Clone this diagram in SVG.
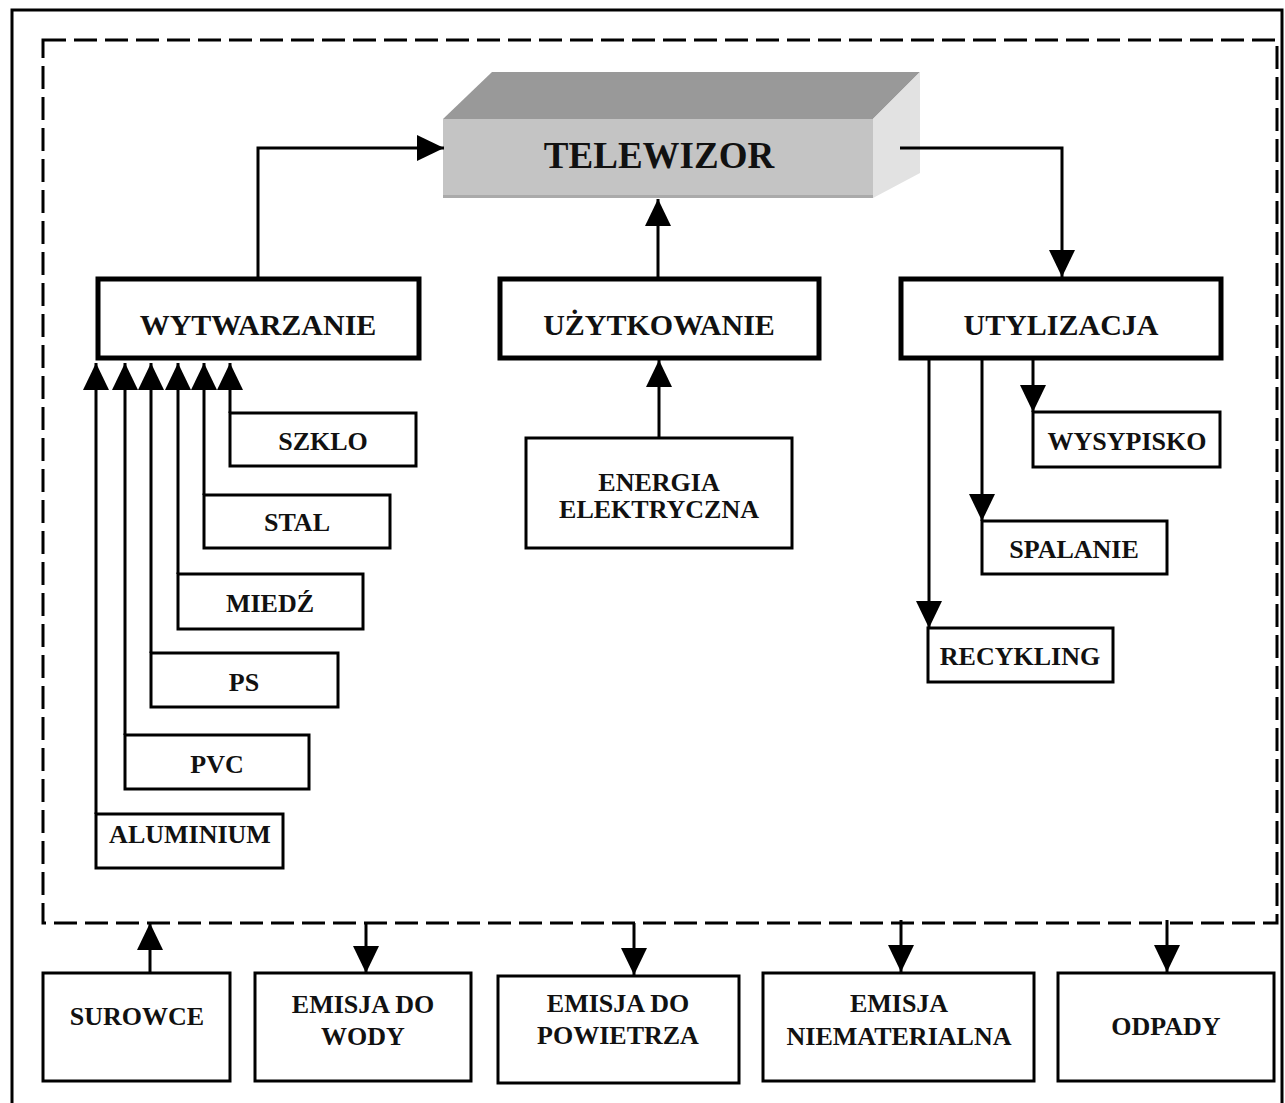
<svg xmlns="http://www.w3.org/2000/svg" width="1285" height="1103" viewBox="0 0 1285 1103">
  <defs>
    <marker id="arrow" markerUnits="userSpaceOnUse" markerWidth="28" markerHeight="28" refX="27" refY="13" orient="auto">
      <path d="M0,0 L27,13 L0,26 Z" fill="#000"/>
    </marker>
  </defs>
  <style>
    .frame { fill: none; stroke: #000; stroke-width: 3; }
    .system { fill: none; stroke: #000; stroke-width: 3; stroke-dasharray: 23 8; }
    .box { fill: #fff; stroke: #000; stroke-width: 3; }
    .stage { fill: #fff; stroke: #000; stroke-width: 5; }
    .link { fill: none; stroke: #000; stroke-width: 3; marker-end: url(#arrow); }
    text { font-family: "Liberation Serif", "Times New Roman", serif; font-weight: bold; fill: #111; text-anchor: middle; }
    .lbl { font-size: 26px; }
    .big { font-size: 30px; }
    .tv { font-size: 37px; }
  </style>

  <rect width="1285" height="1103" fill="#fff"/>

  <!-- outer frame and dashed system boundary -->
  <rect class="frame" x="12" y="10" width="1270" height="1100"/>
  <rect class="system" x="43" y="40" width="1234" height="883"/>

  <!-- product: 3D block -->
  <g id="telewizor">
    <polygon points="443,119 492,72 920,72 873,119" fill="#999"/>
    <polygon points="873,119 920,72 920,173 873,198" fill="#e2e2e2"/>
    <rect x="443" y="119" width="430" height="79" fill="#c4c4c4"/>
    <rect x="443" y="195" width="430" height="3" fill="#aaa"/>
    <text class="tv" x="659" y="168">TELEWIZOR</text>
  </g>

  <!-- life-cycle stages -->
  <g id="wytwarzanie">
    <rect class="stage" x="98" y="279" width="321" height="79"/>
    <text class="big" x="258" y="335">WYTWARZANIE</text>
  </g>
  <g id="uzytkowanie">
    <rect class="stage" x="500" y="279" width="319" height="79"/>
    <text class="big" x="659" y="335">UŻYTKOWANIE</text>
  </g>
  <g id="utylizacja">
    <rect class="stage" x="901" y="279" width="320" height="79"/>
    <text class="big" x="1061" y="335">UTYLIZACJA</text>
  </g>

  <!-- materials -->
  <g id="szklo">
    <rect class="box" x="230" y="413" width="186" height="53"/>
    <text class="lbl" x="323" y="450">SZKLO</text>
  </g>
  <g id="stal">
    <rect class="box" x="204" y="495" width="186" height="53"/>
    <text class="lbl" x="297" y="531">STAL</text>
  </g>
  <g id="miedz">
    <rect class="box" x="178" y="574" width="185" height="55"/>
    <text class="lbl" x="270" y="612">MIEDŹ</text>
  </g>
  <g id="ps">
    <rect class="box" x="151" y="653" width="187" height="54"/>
    <text class="lbl" x="244" y="691">PS</text>
  </g>
  <g id="pvc">
    <rect class="box" x="125" y="735" width="184" height="54"/>
    <text class="lbl" x="217" y="773">PVC</text>
  </g>
  <g id="aluminium">
    <rect class="box" x="96" y="814" width="187" height="54"/>
    <text class="lbl" x="190" y="843">ALUMINIUM</text>
  </g>

  <!-- energy input -->
  <g id="energia">
    <rect class="box" x="526" y="438" width="266" height="110"/>
    <text class="lbl" x="659" y="491">ENERGIA</text>
    <text class="lbl" x="659" y="518">ELEKTRYCZNA</text>
  </g>

  <!-- end-of-life routes -->
  <g id="wysypisko">
    <rect class="box" x="1033" y="412" width="187" height="55"/>
    <text class="lbl" x="1127" y="450">WYSYPISKO</text>
  </g>
  <g id="spalanie">
    <rect class="box" x="982" y="521" width="185" height="53"/>
    <text class="lbl" x="1074" y="558">SPALANIE</text>
  </g>
  <g id="recykling">
    <rect class="box" x="928" y="628" width="185" height="54"/>
    <text class="lbl" x="1020" y="665">RECYKLING</text>
  </g>

  <!-- system inputs and outputs -->
  <g id="surowce">
    <rect class="box" x="43" y="973" width="187" height="108"/>
    <text class="lbl" x="137" y="1025">SUROWCE</text>
  </g>
  <g id="emisja-woda">
    <rect class="box" x="255" y="973" width="216" height="108"/>
    <text class="lbl" x="363" y="1013">EMISJA DO</text>
    <text class="lbl" x="363" y="1045">WODY</text>
  </g>
  <g id="emisja-powietrze">
    <rect class="box" x="498" y="976" width="241" height="107"/>
    <text class="lbl" x="618" y="1012">EMISJA DO</text>
    <text class="lbl" x="618" y="1044">POWIETRZA</text>
  </g>
  <g id="emisja-niematerialna">
    <rect class="box" x="763" y="973" width="271" height="108"/>
    <text class="lbl" x="899" y="1012">EMISJA</text>
    <text class="lbl" x="899" y="1045">NIEMATERIALNA</text>
  </g>
  <g id="odpady">
    <rect class="box" x="1058" y="973" width="216" height="108"/>
    <text class="lbl" x="1166" y="1035">ODPADY</text>
  </g>

  <!-- connectors, drawn on top of the blocks -->
  <g id="connectors">
    <polyline class="link" points="258,277 258,148 444,148"/>
    <polyline class="link" points="900,148 1062,148 1062,277"/>
    <line class="link" x1="658" y1="277" x2="658" y2="199"/>
    <line class="link" x1="659" y1="437" x2="659" y2="360"/>

    <line class="link" x1="96" y1="814" x2="96" y2="363"/>
    <line class="link" x1="125" y1="735" x2="125" y2="363"/>
    <line class="link" x1="151" y1="653" x2="151" y2="363"/>
    <line class="link" x1="178" y1="574" x2="178" y2="363"/>
    <line class="link" x1="204" y1="495" x2="204" y2="363"/>
    <line class="link" x1="230" y1="413" x2="230" y2="363"/>

    <line class="link" x1="1033" y1="360" x2="1033" y2="412"/>
    <line class="link" x1="982" y1="360" x2="982" y2="521"/>
    <line class="link" x1="929" y1="360" x2="929" y2="628"/>

    <line class="link" x1="150" y1="972" x2="150" y2="923"/>
    <line class="link" x1="366" y1="923" x2="366" y2="973"/>
    <line class="link" x1="634" y1="923" x2="634" y2="975"/>
    <line class="link" x1="901" y1="920" x2="901" y2="972"/>
    <line class="link" x1="1167" y1="920" x2="1167" y2="972"/>
  </g>
</svg>
